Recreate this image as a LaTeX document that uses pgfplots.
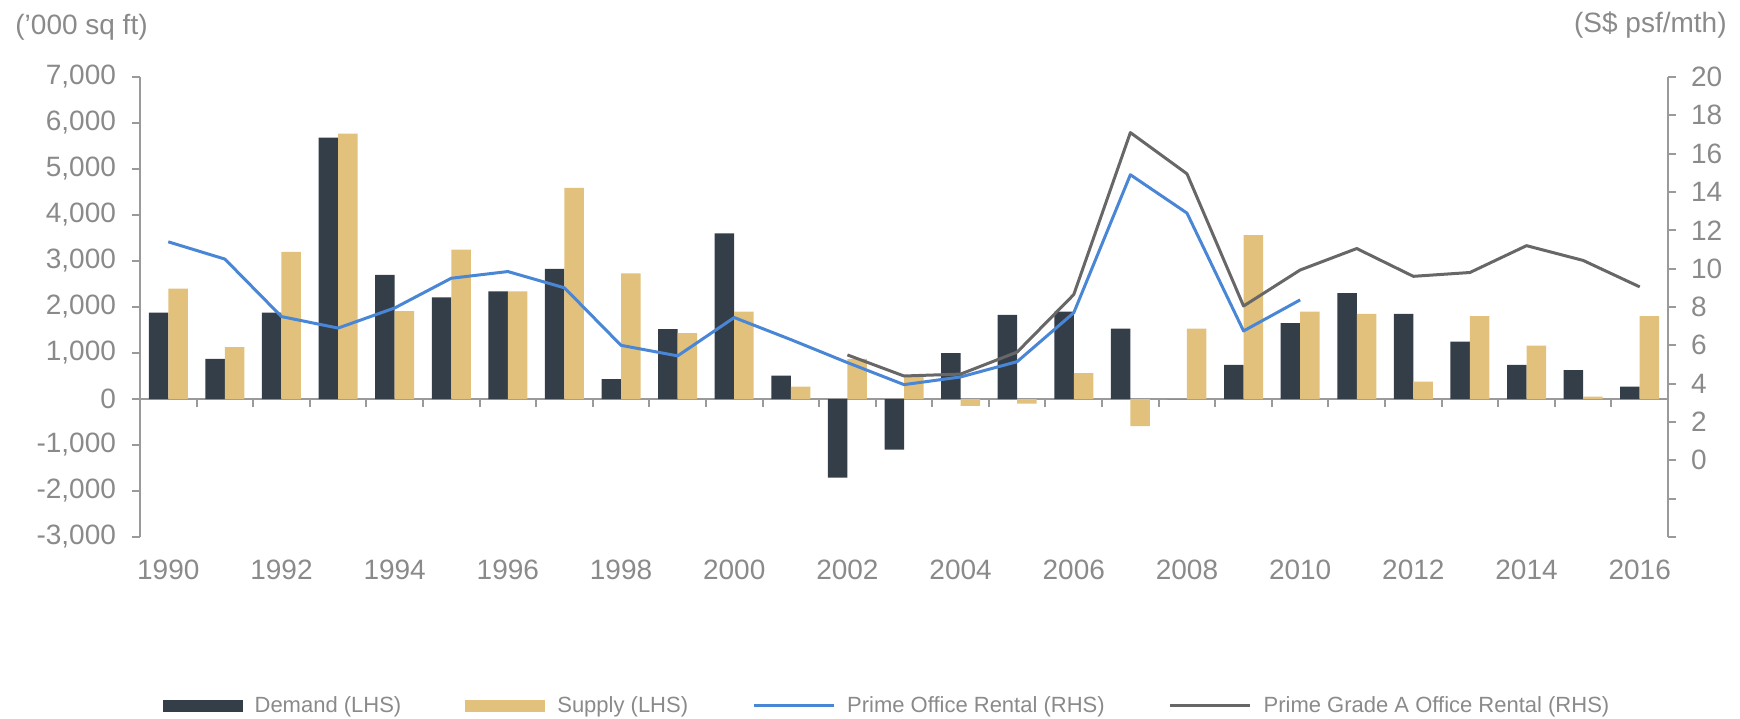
\documentclass[border=0pt]{standalone}
\usepackage{fontspec}
\setmainfont{Liberation Sans}
\usepackage{pgfplots}
\pgfplotsset{compat=1.18}
\usepackage{pgfplotstable}
\definecolor{demand}{HTML}{343E49}
\definecolor{supply}{HTML}{E2C17C}
\definecolor{primeblue}{HTML}{4A86D6}
\definecolor{gradeA}{HTML}{676767}
\definecolor{axisgray}{HTML}{9A9A9A}
\definecolor{txtgray}{HTML}{8A8A8A}

\pgfplotstableread{
year demand supply
1990 1880 2400
1991 870 1130
1992 1880 3200
1993 5680 5770
1994 2700 1910
1995 2210 3250
1996 2340 2340
1997 2830 4590
1998 430 2730
1999 1520 1430
2000 3600 1900
2001 510 270
2002 -1710 870
2003 -1100 500
2004 1000 -150
2005 1830 -100
2006 1900 560
2007 1530 -590
2008 0 1530
2009 740 3560
2010 1650 1900
2011 2300 1850
2012 1850 380
2013 1250 1800
2014 740 1160
2015 630 50
2016 270 1800
}\barstab

\pgfplotstableread{
year rent
1990 11.40
1991 10.50
1992 7.50
1993 6.90
1994 7.95
1995 9.50
1996 9.85
1997 9.00
1998 6.00
1999 5.45
2000 7.45
2001 6.30
2002 5.10
2003 3.95
2004 4.35
2005 5.15
2006 7.70
2007 14.90
2008 12.90
2009 6.75
2010 8.37
}\primetab

\pgfplotstableread{
year rent
2002 5.50
2003 4.40
2004 4.50
2005 5.65
2006 8.65
2007 17.10
2008 14.95
2009 8.05
2010 9.93
2011 11.05
2012 9.60
2013 9.80
2014 11.20
2015 10.43
2016 9.05
}\gradeAtab

\begin{document}
\begin{tikzpicture}
\useasboundingbox (-70pt,-90.5pt) rectangle (800pt,268.5pt);
\begin{axis}[
  scale only axis, width=764pt, height=230pt,
  xmin=1989.5, xmax=2016.5,
  ymin=-3000, ymax=7000,
  axis y line*=left,
  axis x line*=middle,
  xtick={1990.5,1991.5,1992.5,1993.5,1994.5,1995.5,1996.5,1997.5,1998.5,1999.5,2000.5,2001.5,2002.5,2003.5,2004.5,2005.5,2006.5,2007.5,2008.5,2009.5,2010.5,2011.5,2012.5,2013.5,2014.5,2015.5},
  xticklabels={},
  ytick={-3000,-2000,...,7000},
  yticklabels={{-3,000},{-2,000},{-1,000},0,{1,000},{2,000},{3,000},{4,000},{5,000},{6,000},{7,000}},
  tick align=outside,
  major tick length=4pt,
  axis line style={axisgray, line width=1pt},
  every tick/.style={axisgray, line width=1pt},
  tick label style={font=\fontsize{14}{16}\selectfont, text=txtgray},
  yticklabel style={xshift=-4.5pt},
  clip=false,
  legend columns=4,
  legend cell align=left,
  legend style={at={(0.4895,-0.367)}, anchor=center, draw=none, fill=none,
    font=\fontsize{11}{13}\selectfont, text=txtgray,
    /tikz/every odd column/.append style={column sep=4pt},
    /tikz/every even column/.append style={column sep=30pt}},
]
\addplot[ybar, bar width=9.75pt, bar shift=-4.875pt, fill=demand, draw=none,
  legend image code/.code={\fill[demand] (0pt,-3pt) rectangle (40pt,3pt);}]
  table[x=year, y=demand]{\barstab};
\addlegendentry{Demand (LHS)}
\addplot[ybar, bar width=9.75pt, bar shift=4.875pt, fill=supply, draw=none,
  legend image code/.code={\fill[supply] (0pt,-3pt) rectangle (40pt,3pt);}]
  table[x=year, y=supply]{\barstab};
\addlegendentry{Supply (LHS)}
\addlegendimage{legend image code/.code={\draw[primeblue, line width=1.5pt] (0pt,0pt) -- (40pt,0pt);}}
\addlegendentry{Prime Office Rental (RHS)}
\addlegendimage{legend image code/.code={\draw[gradeA, line width=1.5pt] (0pt,0pt) -- (40pt,0pt);}}
\addlegendentry{Prime Grade A Office Rental (RHS)}
\node[anchor=west, text=txtgray, font=\fontsize{14}{16}\selectfont, inner sep=0pt]
  at ([xshift=-62.5pt, yshift=25pt]rel axis cs:0,1) {('000 sq ft)};
\node[anchor=east, text=txtgray, font=\fontsize{14}{16}\selectfont, inner sep=0pt]
  at ([xshift=29.5pt, yshift=26pt]rel axis cs:1,1) {(S\$ psf/mth)};
\end{axis}
\begin{axis}[
  scale only axis, width=764pt, height=230pt,
  xmin=1989.5, xmax=2016.5,
  ymin=-4, ymax=20,
  axis y line*=right,
  axis x line*=bottom,
  x axis line style={draw=none},
  xtick={1990,1992,1994,1996,1998,2000,2002,2004,2006,2008,2010,2012,2014,2016},
  xticklabels={1990,1992,1994,1996,1998,2000,2002,2004,2006,2008,2010,2012,2014,2016},
  x tick style={draw=none},
  ytick={-4,-2,...,20},
  yticklabels={{},{},0,2,4,6,8,10,12,14,16,18,20},
  tick align=outside,
  major tick length=4pt,
  y axis line style={axisgray, line width=1pt},
  every tick/.style={axisgray, line width=1pt},
  tick label style={font=\fontsize{14}{16}\selectfont, text=txtgray},
  xticklabel style={yshift=-4pt},
  yticklabel style={xshift=4pt},
  clip=false,
]
\addplot[primeblue, line width=1.5pt, line join=round] table[x=year, y=rent]{\primetab};
\addplot[gradeA, line width=1.5pt, line join=round] table[x=year, y=rent]{\gradeAtab};
\end{axis}
\end{tikzpicture}
\end{document}
